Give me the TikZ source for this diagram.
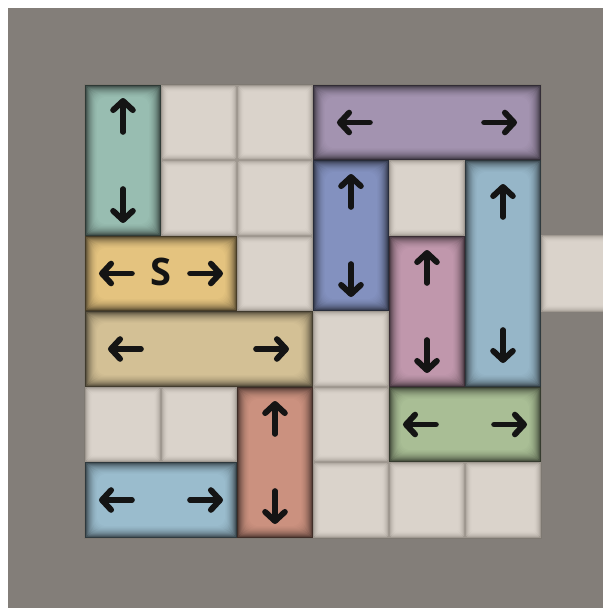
\documentclass[tikz,border=0pt]{standalone}
\usepackage{fontspec}
\newfontfamily\tilefont{Open Sans}
\usetikzlibrary{arrows.meta}

\definecolor{board}{HTML}{837E79}
\definecolor{gap}{HTML}{9E978F}
\definecolor{tile}{HTML}{DAD3CB}
\definecolor{ink}{HTML}{141414}
\definecolor{teal}{HTML}{98BDB1}
\definecolor{lilac}{HTML}{A393B0}
\definecolor{sand}{HTML}{E4C37F}
\definecolor{slate}{HTML}{8391BF}
\definecolor{rose}{HTML}{C097AC}
\definecolor{sky}{HTML}{96B6C8}
\definecolor{khaki}{HTML}{D3C095}
\definecolor{clay}{HTML}{CB917F}
\definecolor{sage}{HTML}{A9BE95}
\definecolor{ice}{HTML}{9ABCCD}

\tikzset{
  move/.style={draw=ink, line width=4pt, line cap=round,
    -{Straight Barb[length=6.5pt,width=14pt,line width=4.2pt,round]}},
  letter/.style={text=ink, font=\tilefont\bfseries\fontsize{27}{27}\selectfont},
}

% empty square of the board: x0 y0 x1 y1 (pixels)
\newcommand{\freecell}[4]{%
  \foreach \k/\p in {1/35,2/55,3/70,4/82,5/91,6/97,7/100}
    \fill[tile!\p!gap, rounded corners=1pt] ({#1+\k},{#2+\k}) rectangle ({#3-\k},{#4-\k});
}
% sliding block: x0 y0 x1 y1 colour
\newcommand{\block}[5]{%
  \fill[#5!30!black] (#1,#2) rectangle (#3,#4);
  \foreach \k/\p/\r in {1/45/0.5,2/55/1,3/63/1.5,4/70/2,5/76/2.5,6/81/3,7/86/3.5,8/90/4,9/93/4.5,10/96/5,11/98/5.5,12/100/6}
    \fill[#5!\p!black, rounded corners=\r pt] ({#1+\k},{#2+\k}) rectangle ({#3-\k},{#4-\k});
}

\begin{document}
\begin{tikzpicture}[x=0.025cm,y=-0.025cm]
\useasboundingbox (0,0) rectangle (603,608);
\clip (0,0) rectangle (603,608);
\fill[board] (8,8) rectangle (603,608);

% board
\fill[gap!80!black] (84,84) rectangle (542,539);
\fill[gap] (85,85) rectangle (541,538);
\freecell{161}{85}{237}{160}
\freecell{237}{85}{313}{160}
\freecell{161}{160}{237}{236}
\freecell{237}{160}{313}{236}
\freecell{237}{236}{313}{311}
\freecell{389}{160}{465}{236}
\freecell{313}{311}{389}{387}
\freecell{85}{387}{161}{462}
\freecell{161}{387}{237}{462}
\freecell{313}{387}{389}{462}
\freecell{313}{462}{389}{538}
\freecell{389}{462}{465}{538}
\freecell{465}{462}{541}{538}

% exit
\fill[gap] (541,235) rectangle (615,312);
\freecell{541}{235}{615}{312}

% blocks
\block{85}{85}{161}{236}{teal}
\draw[move] (123,132) -- (123,98);
\draw[move] (123,189) -- (123,223);

\block{313}{85}{541}{160}{lilac}
\draw[move] (370,122.5) -- (337,122.5);
\draw[move] (484,122.5) -- (517,122.5);

\block{85}{236}{237}{311}{sand}
\draw[move] (132,273.5) -- (99,273.5);
\draw[move] (190,273.5) -- (223,273.5);
\node[letter] (s) at (161,272) {S};

\block{313}{160}{389}{311}{slate}
\draw[move] (351,207) -- (351,174);
\draw[move] (351,264) -- (351,297);

\block{389}{236}{465}{387}{rose}
\draw[move] (427,283) -- (427,250);
\draw[move] (427,340) -- (427,373);

\block{465}{160}{541}{387}{sky}
\draw[move] (503,217) -- (503,184);
\draw[move] (503,330) -- (503,363);

\block{85}{311}{313}{387}{khaki}
\draw[move] (141,349) -- (108,349);
\draw[move] (256,349) -- (289,349);

\block{237}{387}{313}{538}{clay}
\draw[move] (275,434) -- (275,401);
\draw[move] (275,491) -- (275,524);

\block{389}{387}{541}{462}{sage}
\draw[move] (436,424.5) -- (403,424.5);
\draw[move] (494,424.5) -- (527,424.5);

\block{85}{462}{237}{538}{ice}
\draw[move] (132,500) -- (99,500);
\draw[move] (190,500) -- (223,500);
\end{tikzpicture}
\end{document}
